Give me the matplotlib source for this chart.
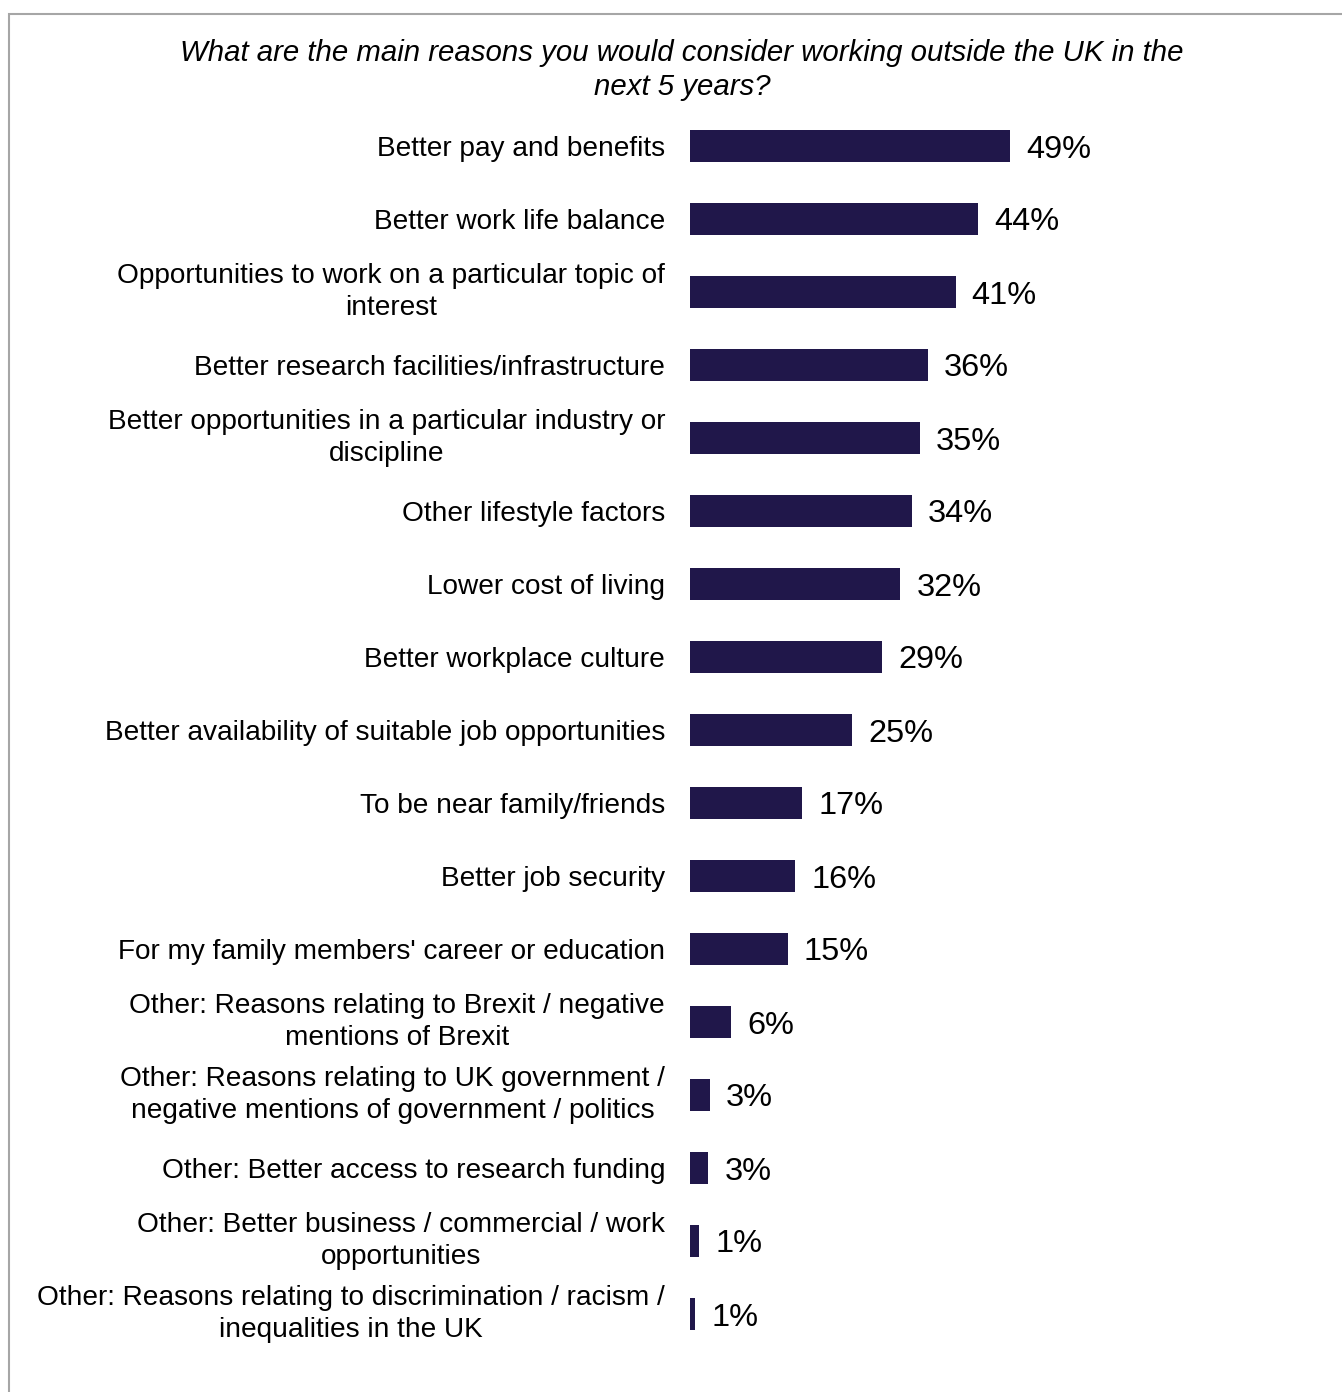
import matplotlib
matplotlib.use("Agg")
import matplotlib.pyplot as plt
from matplotlib.patches import Rectangle

categories = [
    "Better pay and benefits",
    "Better work life balance",
    "Opportunities to work on a particular topic of\ninterest",
    "Better research facilities/infrastructure",
    "Better opportunities in a particular industry or\ndiscipline",
    "Other lifestyle factors",
    "Lower cost of living",
    "Better workplace culture",
    "Better availability of suitable job opportunities",
    "To be near family/friends",
    "Better job security",
    "For my family members' career or education",
    "Other: Reasons relating to Brexit / negative\nmentions of Brexit",
    "Other: Reasons relating to UK government /\nnegative mentions of government / politics",
    "Other: Better access to research funding",
    "Other: Better business / commercial / work\nopportunities",
    "Other: Reasons relating to discrimination / racism /\ninequalities in the UK",
]
values = [49.0, 44.1, 40.7, 36.4, 35.2, 34.0, 32.2, 29.4, 24.8, 17.2, 16.1, 15.0, 6.3, 3.0, 2.8, 1.4, 0.8]
value_labels = ["49%", "44%", "41%", "36%", "35%", "34%", "32%", "29%", "25%", "17%", "16%", "15%",
                "6%", "3%", "3%", "1%", "1%"]
title = "What are the main reasons you would consider working outside the UK in the\nnext 5 years?"

plt.rcParams['font.family'] = ['Liberation Sans', 'DejaVu Sans']

W, H = 1342, 1392
fig = plt.figure(figsize=(W / 100, H / 100), dpi=100)

# border
fig.patches.append(Rectangle((8.5 / W, -0.1), 1.2, 1 - 13.5 / H + 0.1, transform=fig.transFigure,
                             fill=False, edgecolor="#a6a6a6", linewidth=1.5))

px_per_unit = 6.53
xmax = 60
left = 690 / W
width = xmax * px_per_unit / W
top_px = 146 - 36.5
bot_px = 1314 + 36.5
ax = fig.add_axes([left, 1 - bot_px / H, width, (bot_px - top_px) / H])

n = len(categories)
ypos = list(range(n))
ax.barh(ypos, values, height=0.44, color="#20174a", edgecolor="none")
ax.set_ylim(n - 0.5, -0.5)
ax.set_xlim(0, xmax)
ax.set_yticks(ypos)
ax.set_yticklabels(categories, fontsize=20.2)
for lab in ax.get_yticklabels():
    lab.set_multialignment("center")
    lab.set_linespacing(1.3)
    if "\n" in lab.get_text():
        lab.set_verticalalignment("center")
ax.tick_params(axis="y", length=0, pad=18)
ax.set_xticks([])
for s in ax.spines.values():
    s.set_visible(False)
ax.patch.set_visible(False)

for y, v, t in zip(ypos, values, value_labels):
    ax.annotate(t, xy=(v, y), xytext=(11.5, 0), textcoords="offset points",
                ha="left", va="center_baseline", fontsize=23.4, color="black")

fig.text(682 / W, 1 - 70 / H, title, ha="center", va="center", fontsize=21.2,
         style="italic", linespacing=1.28)

fig.savefig("out.png", dpi=100, facecolor="white")
